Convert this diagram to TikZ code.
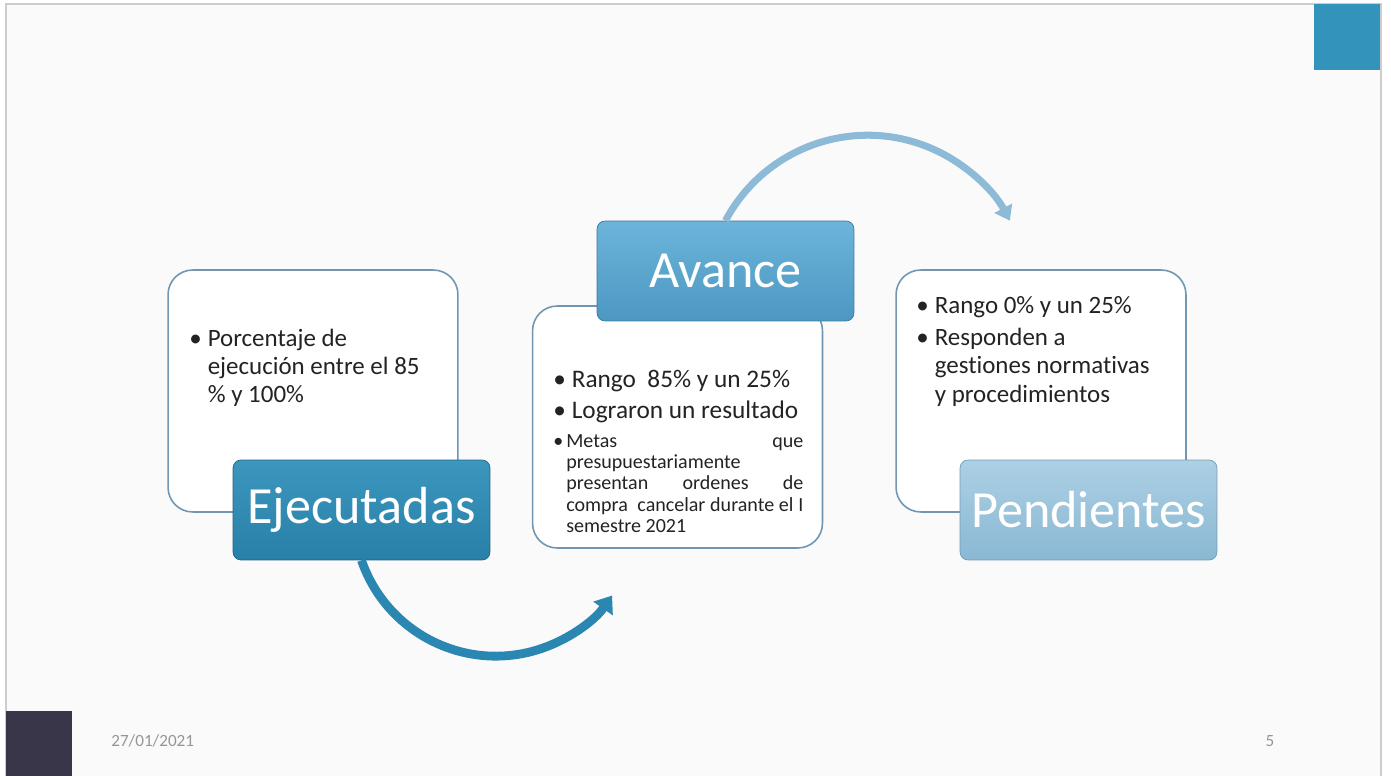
\documentclass[tikz,border=0pt]{standalone}
\usepackage{fontspec}
\setmainfont{Carlito}[Ligatures=NoCommon]
\usetikzlibrary{arrows.meta}

\definecolor{framegray}{RGB}{205,205,205}
\definecolor{slidebg}{RGB}{250,250,250}
\definecolor{boxline}{RGB}{112,150,178}
\definecolor{ejectop}{RGB}{60,150,190}
\definecolor{ejecbot}{RGB}{40,128,168}
\definecolor{avtop}{RGB}{108,180,218}
\definecolor{avbot}{RGB}{76,152,194}
\definecolor{pendtop}{RGB}{172,208,228}
\definecolor{pendbot}{RGB}{138,184,211}
\definecolor{arrowdark}{RGB}{42,135,178}
\definecolor{arrowlight}{RGB}{140,186,215}
\definecolor{cornerblue}{RGB}{52,147,186}
\definecolor{cornerdark}{RGB}{58,54,74}
\definecolor{bodytext}{RGB}{35,35,35}
\definecolor{foottext}{RGB}{150,150,150}

% vinetas: grande y pequena
\newcommand\bul{\makebox[10.5pt][l]{\textbullet}}
\newcommand\ind{\makebox[10.5pt]{}}
\newcommand\sbul{\makebox[7.4pt][l]{\textbullet}}
\newcommand\sind{\makebox[7.4pt]{}}
\newcommand\jline[1]{\makebox[134.9pt][s]{#1}}

\tikzset{
  textbox/.style={draw=boxline, line width=0.9pt, fill=white, rounded corners=14pt,
    minimum width=165pt, minimum height=137.7pt, inner sep=0pt},
  labelbox/.style={rounded corners=4.5pt, minimum width=146.2pt, minimum height=56.9pt,
    inner sep=0pt, text=white, font=\fontsize{29.7}{34}\selectfont},
  bullets/.style={anchor=north west, inner sep=0pt, align=left, text=bodytext},
  foot/.style={inner sep=0pt, text=foottext, font=\fontsize{9.75}{12}\selectfont},
  bendarrow/.style={line width=5pt}
}

\begin{document}
\begin{tikzpicture}[x=0.02cm, y=-0.02cm]
\useasboundingbox (0,0) rectangle (1391,776);
\fill[white] (0,0) rectangle (1391,776);
\fill[slidebg] (6,4) rectangle (1381,776);
\draw[framegray, line width=0.8pt] (6,776) -- (6,4) -- (1381,4) -- (1381,776);
\fill[cornerblue] (1314,4) rectangle (1380,70);
\fill[cornerdark] (6,711) rectangle (72,776);

% cajas de texto
\node[textbox] (ejecT) at (313,391) {};
\node[textbox] (avT) at (677.5,427) {};
\node[textbox] (pendT) at (1041,391) {};

\node[bullets, font=\fontsize{14.2}{15.9}\selectfont] (ejecX) at (189,324.9)
  {\rule{0pt}{12pt}\bul Porcentaje de\\ \ind ejecución entre el 85\\ \ind\% y 100\%};
\node[bullets, font=\fontsize{14.4}{17.6}\selectfont] (avX) at (553,365.9)
  {\rule{0pt}{12pt}\bul Rango\ \ 85\% y un 25\%\\ \bul Lograron un resultado};
\node[bullets, font=\fontsize{11.4}{12.1}\selectfont] (avY) at (553,429.4)
  {\rule{0pt}{10pt}\sbul\jline{Metas\hfill que}\\ \sind presupuestariamente\\
   \sind\jline{presentan ordenes de}\\ \sind\jline{compra\ \ cancelar durante el I}\\
   \sind semestre 2021};
\node[bullets, font=\fontsize{14.2}{16.2}\selectfont] (pendX) at (916,291.9)
  {\rule{0pt}{12pt}\bul Rango 0\% y un 25\%\\[2pt] \bul Responden a\\ \ind gestiones normativas\\
   \ind y procedimientos};

% etiquetas
\node[labelbox, draw=ejecbot!80!black, top color=ejectop, bottom color=ejecbot] (ejecL) at (361.5,510) {Ejecutadas};
\node[labelbox, draw=avbot!80!black, top color=avtop, bottom color=avbot] (avL) at (725.5,271) {Avance};
\node[labelbox, draw=pendbot!85!black, top color=pendtop, bottom color=pendbot] (pendL) at (1088.5,510) {Pendientes};

% flechas curvas
\draw[bendarrow, arrowdark, -{Triangle[width=13pt, length=9pt]}]
  (ejecL.south) arc[start angle=161, end angle=35, radius=142];
\draw[bendarrow, arrowlight, line width=4pt, -{Triangle[width=11pt, length=8pt]}]
  (avL.north) arc[start angle=-152, end angle=-28, radius=161];

% pie
\node[foot, anchor=base west] (fecha) at (111,746) {27/01/2021};
\node[foot, anchor=base] (pagina) at (1270,746) {5};
\end{tikzpicture}
\end{document}
